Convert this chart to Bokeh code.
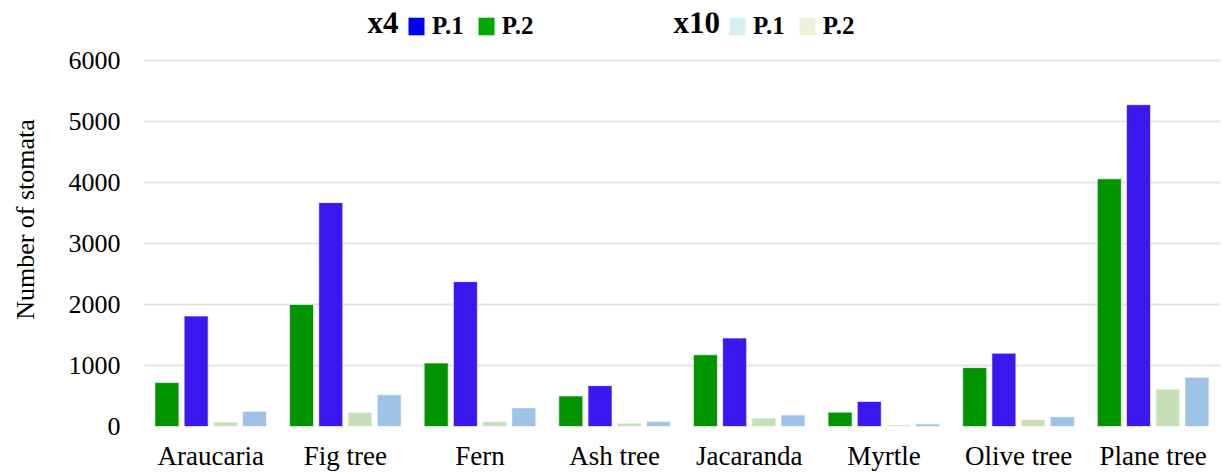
from bokeh.plotting import figure
from bokeh.models import (FactorRange, Range1d, FixedTicker, Legend, LegendItem,
                          Label, ColumnDataSource)
from bokeh.transform import dodge
from bokeh.embed import file_html
from bokeh.resources import INLINE

# ---------------- data ----------------
species = ["Araucaria", "Fig tree", "Fern", "Ash tree", "Jacaranda",
           "Myrtle", "Olive tree", "Plane tree"]
x4_p2 = [720, 2000, 1040, 500, 1175, 235, 965, 4060]     # green
x4_p1 = [1810, 3670, 2375, 670, 1450, 410, 1200, 5275]   # blue
x10_p2 = [75, 235, 80, 55, 140, 25, 115, 610]            # light green
x10_p1 = [250, 520, 305, 80, 190, 40, 160, 808]          # light blue
y_ticks = [0, 1000, 2000, 3000, 4000, 5000, 6000]
y_title = "Number of stomata"
group_labels = ["x4", "x10"]
item_labels = ["P.1", "P.2"]

src = ColumnDataSource(dict(species=species, x4_p2=x4_p2, x4_p1=x4_p1,
                            x10_p2=x10_p2, x10_p1=x10_p1))

SERIF = "Liberation Serif"

p = figure(x_range=FactorRange(factors=species, range_padding=0),
           y_range=Range1d(0, 6787),
           frame_width=1077, frame_height=414,
           min_border_left=143, min_border_right=0,
           min_border_top=12, min_border_bottom=0,
           output_backend="svg", toolbar_location=None)
p.outline_line_color = None
p.background_fill_color = "white"
p.border_fill_color = "white"

bar_w = 0.178
series = [("x4_p2", -0.326, "#009400"),
          ("x4_p1", -0.109, "#3c17f0"),
          ("x10_p2", 0.108, "#c8e0b8"),
          ("x10_p1", 0.325, "#9ec3e7")]
for col, off, color in series:
    p.vbar(x=dodge("species", off, range=p.x_range), top=col, width=bar_w,
           source=src, fill_color=color, line_color="white", line_alpha=0.6,
           line_width=1)

# invisible (zero-height) renderers that only carry legend swatch colours
def swatch(color):
    s = ColumnDataSource(dict(x=[species[0]], top=[0]))
    return p.vbar(x="x", top="top", bottom=0, width=0.01, source=s,
                  fill_color=color, line_color=None)

r_x4_p1 = swatch("#0000ff")
r_x4_p2 = swatch("#00a800")
r_x10_p1 = swatch("#d6eff4")
r_x10_p2 = swatch("#ecf2dc")

def make_legend(r1, r2, loc):
    return Legend(items=[LegendItem(label=item_labels[0], renderers=[r1], index=0),
                         LegendItem(label=item_labels[1], renderers=[r2], index=0)],
                  orientation="horizontal", location=loc,
                  glyph_width=20, glyph_height=22, label_standoff=6,
                  spacing=12, padding=0, margin=0,
                  border_line_color=None, background_fill_alpha=0,
                  label_text_font=SERIF, label_text_font_style="bold",
                  label_text_font_size="25px", label_height=32,
                  label_text_baseline="middle",
                  label_text_color="black")

p.add_layout(make_legend(r_x4_p1, r_x4_p2, (263, 384)))
p.add_layout(make_legend(r_x10_p1, r_x10_p2, (584, 384)))

for txt, xs in zip(group_labels, [224, 530]):
    p.add_layout(Label(x=xs, y=404, x_units="screen", y_units="screen",
                       text=txt, text_font=SERIF, text_font_style="bold",
                       text_font_size="31px", text_baseline="alphabetic",
                       text_color="black"))

# axes
p.yaxis.ticker = FixedTicker(ticks=y_ticks)
p.yaxis.axis_label = y_title
p.yaxis.axis_label_text_font = SERIF
p.yaxis.axis_label_text_font_style = "normal"
p.yaxis.axis_label_text_font_size = "26px"
p.yaxis.axis_label_text_color = "black"
p.yaxis.axis_label_standoff = 26
p.yaxis.major_label_text_font = SERIF
p.yaxis.major_label_text_font_size = "26px"
p.yaxis.major_label_text_color = "black"
p.yaxis.major_label_standoff = 23
p.yaxis.axis_line_color = None
p.yaxis.major_tick_line_color = None
p.yaxis.minor_tick_line_color = None
p.yaxis.major_tick_out = 0
p.yaxis.major_tick_in = 0

p.xaxis.major_label_text_font = SERIF
p.xaxis.major_label_text_font_size = "27px"
p.xaxis.major_label_text_color = "black"
p.xaxis.major_label_standoff = 14
p.xaxis.axis_line_color = None
p.xaxis.major_tick_line_color = None
p.xaxis.major_tick_out = 0
p.xaxis.major_tick_in = 0

p.xgrid.grid_line_color = None
p.ygrid.grid_line_color = "#e1e5eb"
p.ygrid.grid_line_width = 2

open("out.html", "w").write(file_html(p, INLINE))
